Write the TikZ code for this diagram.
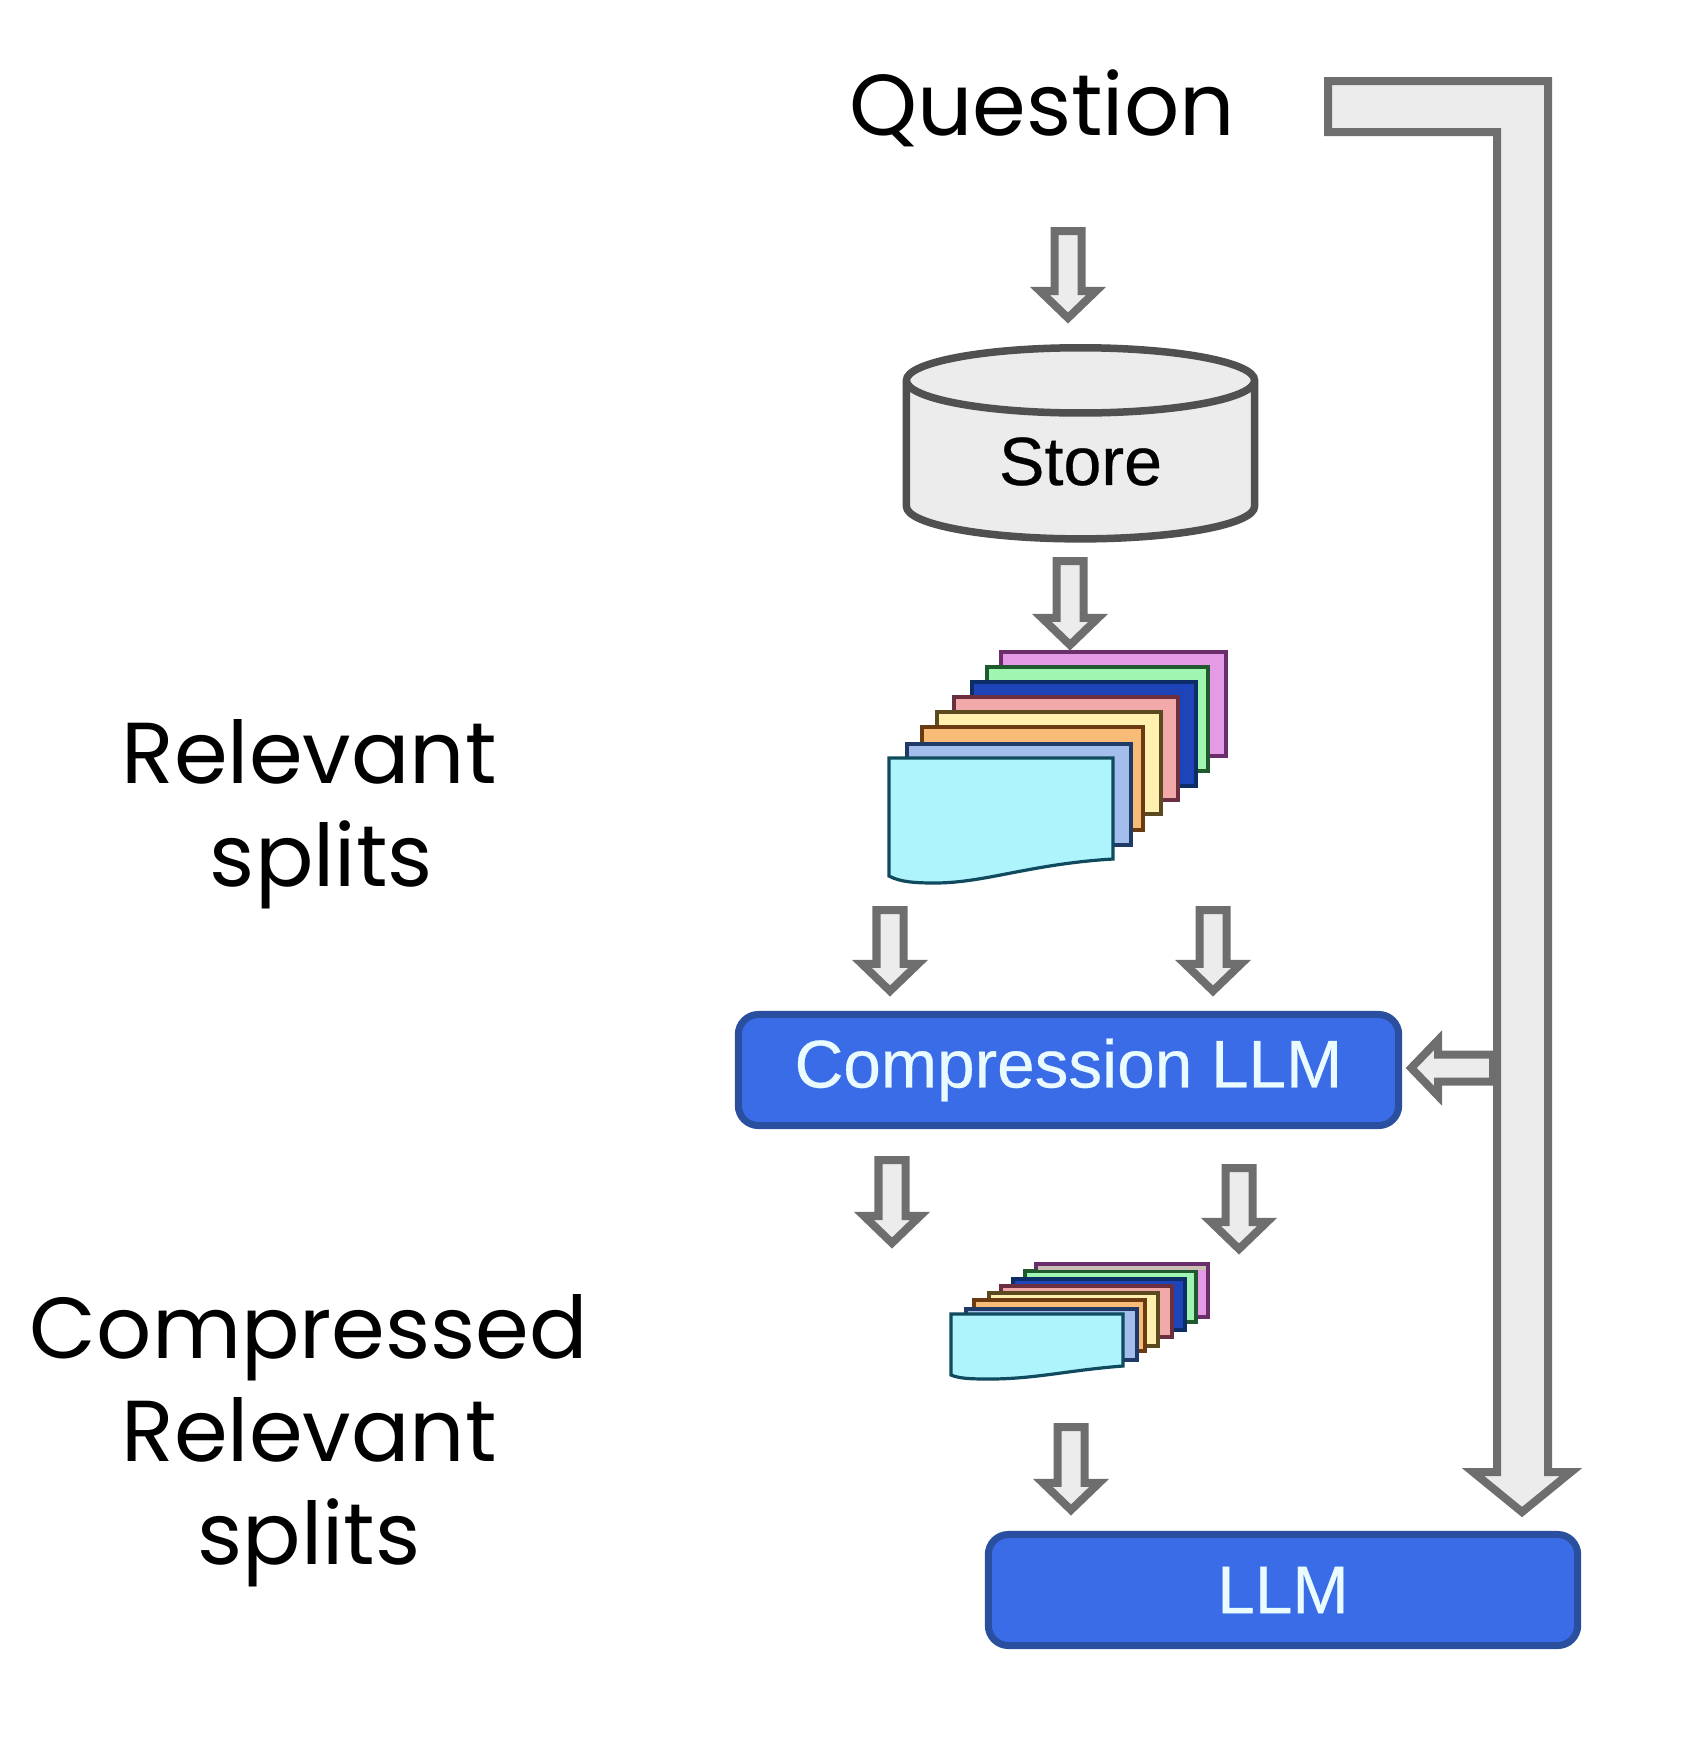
\documentclass[tikz,border=0pt]{standalone}
\usepackage{fontspec}
\setmainfont{Liberation Sans}
\newfontfamily\poppinsfont{Poppins}
\newfontfamily\boxfont[FakeBold=0.4]{Liberation Sans}
\usetikzlibrary{calc,shapes.geometric}
\definecolor{ragArrowEdge}{HTML}{6E6E6E}
\definecolor{ragArrowFill}{HTML}{ECECEC}
\definecolor{ragStoreEdge}{HTML}{505050}
\definecolor{ragBlue}{HTML}{396CE6}
\definecolor{ragBlueEdge}{HTML}{2A4F9E}
\definecolor{ragLabel}{HTML}{EAFBFF}
\definecolor{shPink}{HTML}{E49AE4}
\definecolor{shPinkEdge}{HTML}{6A2F6A}
\definecolor{shGreen}{HTML}{A0F5B0}
\definecolor{shGreenEdge}{HTML}{1E5A2E}
\definecolor{shNavy}{HTML}{1D44B8}
\definecolor{shNavyEdge}{HTML}{0D2D66}
\definecolor{shRose}{HTML}{F2A9A9}
\definecolor{shRoseEdge}{HTML}{6B2F3F}
\definecolor{shYellow}{HTML}{FFF0B0}
\definecolor{shYellowEdge}{HTML}{5B4A20}
\definecolor{shOrange}{HTML}{F8BC78}
\definecolor{shOrangeEdge}{HTML}{6A3A10}
\definecolor{shPeri}{HTML}{A3BEEC}
\definecolor{shPeriEdge}{HTML}{1F3A66}
\definecolor{shCyan}{HTML}{AEF4FC}
\definecolor{shCyanEdge}{HTML}{0F4A5E}
\definecolor{shTan}{HTML}{C9BFB4}
\tikzset{
  blockarrow/.style={draw=ragArrowEdge,fill=ragArrowFill,line width=0.08cm,
    to path={let \p1=($(\tikztotarget)!#1*0.01cm!(\tikztostart)$),
      \p2=($(\p1)!0.27cm!(\tikztostart)$) in
      -- ($(\tikztostart)!0.135cm!90:(\p1)$) -- ($(\p2)!0.135cm!90:(\p1)$)
      -- ($(\p2)!0.28cm!90:(\p1)$) -- (\p1) -- ($(\p2)!0.28cm!-90:(\p1)$)
      -- ($(\p2)!0.135cm!-90:(\p1)$) -- ($(\tikztostart)!0.135cm!-90:(\p1)$) -- cycle}},
  blockarrow/.default=0,
  llmbox/.style={draw=ragBlueEdge,fill=ragBlue,line width=0.07cm,rounded corners=0.2cm,
    text=ragLabel,minimum height=1.11cm,inner sep=0pt,font=\boxfont\fontsize{19.2}{24}\selectfont},
  biglabel/.style={font=\poppinsfont\fontsize{24.6}{29.3}\selectfont,align=center,inner sep=0pt},
  sheet/.style={line width=0.032cm,line join=miter}
}
\begin{document}
\begin{tikzpicture}[x=0.01cm,y=-0.01cm]
\useasboundingbox (0,0) rectangle (1684,1754);
\node[biglabel,anchor=base] (question) at (1042,135) {Question};
\node[biglabel] (relevant) at (309,814) {Relevant\\\hspace*{7pt}splits};
\node[biglabel] (compressed) at (309,1441) {Compressed\\Relevant\\splits};
\node[shape=cylinder,shape border rotate=90,aspect=0.4,draw=ragStoreEdge,fill=ragArrowFill,
  line width=0.075cm,minimum width=3.48cm,minimum height=1.91cm,inner sep=0pt,
  font=\boxfont\fontsize{19.4}{22}\selectfont] (store) at (1080.5,461.5) {Store};
\foreach \lft/\tp/\rgt/\bot/\shfill/\shdraw in {
  1001/652/1226/756/shPink/shPinkEdge,987/667/1208/771/shGreen/shGreenEdge,
  972/682/1196/786/shNavy/shNavyEdge,954/697/1178/800/shRose/shRoseEdge,
  937/712/1161/814/shYellow/shYellowEdge,922/727/1143/830/shOrange/shOrangeEdge,
  907/744/1131/845/shPeri/shPeriEdge}
  \draw[sheet,draw=\shdraw,fill=\shfill] (\lft,\tp) rectangle (\rgt,\bot);
\draw[sheet,draw=shCyanEdge,fill=shCyan] (889,758) -- (1113,758) -- (1113,859)
  .. controls (1030,864) and (985,883) .. (935,883) .. controls (915,883) and (900,882) .. (889,876) -- cycle;
\foreach \lft/\tp/\rgt/\bot/\shfill/\shdraw in {
  1036/1264/1208/1317/shPink/shPinkEdge,1025/1271/1196/1322/shGreen/shGreenEdge,
  1013/1279/1185/1330/shNavy/shNavyEdge,1001/1286/1172/1337/shRose/shRoseEdge,
  989/1293/1158/1346/shYellow/shYellowEdge,974/1300/1145/1351/shOrange/shOrangeEdge,
  966/1309/1137/1360/shPeri/shPeriEdge}
  \draw[sheet,draw=\shdraw,fill=\shfill] (\lft,\tp) rectangle (\rgt,\bot);
\fill[shTan] (1038,1266) rectangle (1206,1269.5);
\draw[sheet,draw=shCyanEdge,fill=shCyan] (951,1314) -- (1123,1314) -- (1123,1366)
  .. controls (1070,1370) and (1035,1379) .. (990,1379) .. controls (975,1379) and (960,1379) .. (951,1375) -- cycle;
\node[llmbox,minimum width=6.6cm] (compression) at (1068.5,1070) {Compression LLM};
\node[llmbox,minimum width=5.89cm] (llm) at (1283,1590) {LLM};
% long arrow from the question down to the answer step
\draw[draw=ragArrowEdge,fill=ragArrowFill,line width=0.08cm] (1328,81) -- (1548,81) -- (1548,1472)
  -- (1571,1472) -- (1522,1512) -- (1473,1472) -- (1497,1472) -- (1497,132) -- (1328,132) -- cycle;
\coordinate (askTail) at (1068,231);
\coordinate (storeTail) at (1070,561);
\coordinate (splitsTop) at (1070,652);
\coordinate (leftIn) at (890,910);
\coordinate (rightIn) at (1213,910);
\coordinate (leftOut) at (892,1160);
\coordinate (leftOutTip) at (892,1243);
\coordinate (rightOut) at (1239,1168);
\coordinate (rightOutTip) at (1239,1249);
\coordinate (finalTail) at (1071,1427);
\coordinate (busTap) at (1493,1068);
\draw[blockarrow=26] (askTail) to (askTail |- store.north);
\draw[blockarrow=7] (storeTail) to (splitsTop);
\draw[blockarrow=20] (leftIn) to (leftIn |- compression.north);
\draw[blockarrow=20] (rightIn) to (rightIn |- compression.north);
\draw[blockarrow] (leftOut) to (leftOutTip);
\draw[blockarrow] (rightOut) to (rightOutTip);
\draw[blockarrow=21] (finalTail) to (finalTail |- llm.north);
\draw[blockarrow=9] (busTap) to (busTap -| compression.east);
\end{tikzpicture}
\end{document}
